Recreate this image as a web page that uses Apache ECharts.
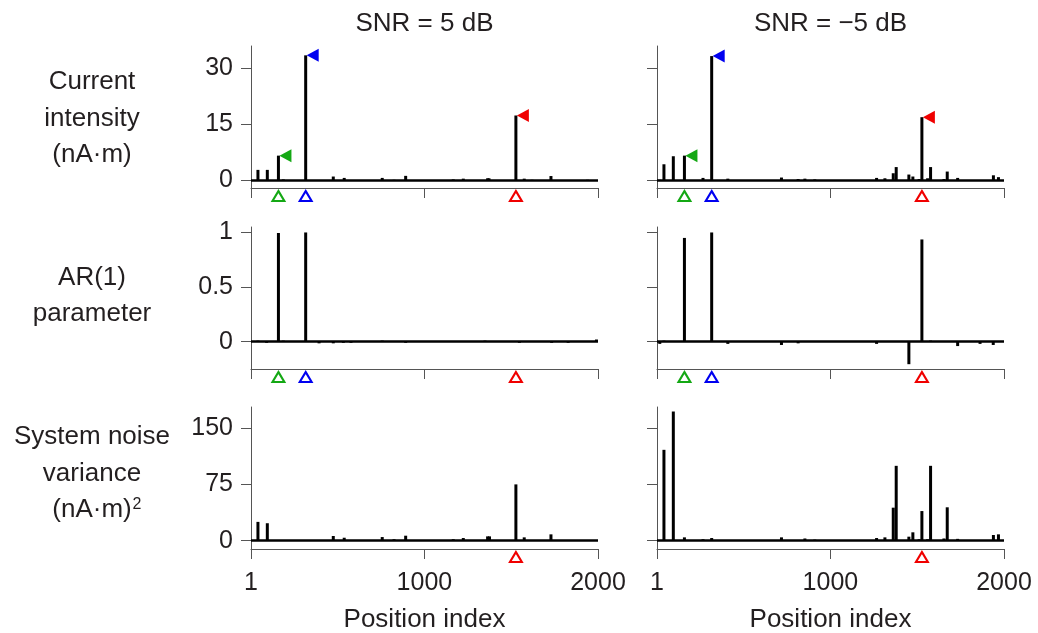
<!DOCTYPE html>
<html>
<head>
<meta charset="utf-8">
<script src="https://cdn.jsdelivr.net/npm/echarts@6/dist/echarts.min.js"></script>
<style>html,body{margin:0;padding:0;background:#fff;}#c{width:1038px;height:633px;}</style>
</head>
<body>
<div id="c"></div>
<script>
// ---- data ----
const columnTitles = ['SNR = 5 dB', 'SNR = \u22125 dB'];
const rowTitles = [['Current', 'intensity', '(nA\u00b7m)'], ['AR(1)', 'parameter'], ['System noise', 'variance', '(nA\u00b7m)']];
const xTicks = [1, 1000, 2000];
const xName = 'Position index';
const yTicksCurrent = [0, 15, 30];
const yTicksAR = [0, 0.5, 1];
const yTicksNoise = [0, 75, 150];
const sourcePositions = [159, 316, 1527];
const sourceColors = ['#14a814', '#0000f0', '#f00000'];

const current5dB = [[41,2.85],[95,2.85],[159,6.66],[187,0.3],[316,33.5],[475,1.07],[538,0.7],[757,0.7],[825,0.2],[892,1.25],[1166,0.3],[1224,0.5],[1364,0.6],[1372,0.6],[1527,17.4],[1575,0.5],[1620,0.2],[1729,1.2],[1830,0.1],[1940,0.2]];
const currentM5dB = [[16,0.2],[41,4.35],[95,6.5],[159,6.66],[238,0.1],[266,0.7],[316,33.3],[409,0.5],[480,0.1],[718,0.8],[814,0.4],[853,0.5],[910,0.3],[1266,0.7],[1314,0.6],[1362,1.95],[1379,3.6],[1452,1.6],[1475,1.07],[1511,0.4],[1527,16.95],[1560,0.6],[1577,3.6],[1654,0.4],[1673,2.4],[1733,0.7],[1939,1.4],[1968,0.9]];
const ar5dB = [[41,0.01],[91,-0.01],[159,0.995],[187,0.01],[316,1.0],[393,-0.015],[475,-0.015],[533,-0.01],[577,-0.01],[757,0.01],[892,-0.01],[1349,0.01],[1547,-0.01],[1733,-0.01],[1828,-0.01],[1991,0.02]];
const arM5dB = [[17,-0.02],[41,0.01],[159,0.95],[316,1.0],[409,-0.02],[718,-0.03],[814,-0.015],[1266,-0.02],[1452,-0.206],[1527,0.936],[1577,0.01],[1733,-0.04],[1862,-0.02],[1938,-0.03]];
const noise5dB = [[41,25.1],[95,23.3],[159,1],[187,0.8],[316,1],[475,6.3],[538,4],[757,4.9],[825,2],[892,6.7],[1166,2],[1224,3.6],[1364,5.8],[1375,5.8],[1527,75],[1575,4.5],[1620,1],[1729,8.5],[1830,0.5],[1940,0.5]];
const noiseM5dB = [[16,1],[41,121],[95,172],[159,4.5],[266,2],[316,3.6],[409,1],[480,0.5],[718,4.5],[814,1],[853,3],[910,1.5],[1266,3.6],[1314,4.5],[1362,44],[1379,99.7],[1452,5.4],[1475,11.2],[1511,2],[1527,39.5],[1560,2],[1577,99.7],[1654,3],[1673,44.5],[1733,2.5],[1862,1],[1880,1],[1939,7.6],[1968,8.5]];

// ---- layout ----
const FONT = '"Liberation Sans", Arial, Helvetica, sans-serif';
const TXT = '#231f20';
const AX = '#555';
const gridLeft = [251, 657];
const gridWidth = 347;
const gridTop = [46, 227, 407];
const gridHeight = 142;
const yRange = [[-2, 36], [-0.25, 1.05], [-11, 178]];
const yTicks = [yTicksCurrent, yTicksAR, yTicksNoise];
const panelData = [[current5dB, currentM5dB], [ar5dB, arM5dB], [noise5dB, noiseM5dB]];

const grids = [], xAxes = [], yAxes = [], series = [];
for (let r = 0; r < 3; r++) {
  for (let c = 0; c < 2; c++) {
    const i = r * 2 + c;
    grids.push({left: gridLeft[c], top: gridTop[r], width: gridWidth, height: gridHeight, containLabel: false});
    xAxes.push({
      type: 'value', gridIndex: i, min: 1, max: 2000,
      axisLine: {show: true, onZero: false, lineStyle: {color: AX, width: 1}},
      axisTick: {show: true, inside: false, length: 10, customValues: xTicks, lineStyle: {color: AX, width: 1}},
      axisLabel: {show: r === 2, customValues: xTicks, margin: 22, color: TXT, fontSize: 25, fontFamily: FONT,
        formatter: v => String(v)},
      splitLine: {show: false}
    });
    yAxes.push({
      type: 'value', gridIndex: i, min: yRange[r][0], max: yRange[r][1],
      axisLine: {show: true, onZero: false, lineStyle: {color: AX, width: 1}},
      axisTick: {show: true, inside: false, length: 10, customValues: yTicks[r], lineStyle: {color: AX, width: 1}},
      axisLabel: {show: c === 0, customValues: yTicks[r], margin: 18, color: TXT, fontSize: 25, fontFamily: FONT,
        formatter: v => String(v)},
      splitLine: {show: false}
    });
    series.push({
      type: 'bar', xAxisIndex: i, yAxisIndex: i, data: panelData[r][c], barWidth: 3,
      itemStyle: {color: '#000', opacity: 1}, silent: true,
      markLine: {silent: true, symbol: 'none', label: {show: false}, animation: false,
        lineStyle: {color: '#000', width: 2.5, type: 'solid', opacity: 1}, data: [{yAxis: 0}]}
    });
    // open triangles marking true source positions
    const tri = [];
    sourcePositions.forEach((p, k) => {
      if (r === 2 && k !== 2) return;
      tri.push({value: [p, yRange[r][0]], itemStyle: {color: 'rgba(0,0,0,0)', borderColor: sourceColors[k], borderWidth: 2, opacity: 1}});
    });
    series.push({
      type: 'scatter', xAxisIndex: i, yAxisIndex: i, data: tri, clip: false, silent: true,
      symbol: 'triangle', symbolSize: [12, 10], symbolOffset: [0, 8], z: 5
    });
    // flags on estimated peaks (top row)
    if (r === 0) {
      const flags = sourcePositions.map((p, k) => {
        const hit = panelData[r][c].find(d => d[0] === p);
        return {value: [p, hit ? hit[1] : 0], itemStyle: {color: sourceColors[k], opacity: 1}};
      });
      series.push({
        type: 'scatter', xAxisIndex: i, yAxisIndex: i, data: flags, clip: false, silent: true,
        symbol: 'path://M0,6 L12,0 L12,12 Z', symbolSize: [12, 13], symbolOffset: [7, 0], symbolKeepAspect: false, z: 6
      });
    }
  }
}

const graphics = [];
const colCenter = [gridLeft[0] + gridWidth / 2, gridLeft[1] + gridWidth / 2];
columnTitles.forEach((t, c) => {
  graphics.push({type: 'text', style: {text: t, x: colCenter[c], y: 24, textAlign: 'center', textVerticalAlign: 'middle', font: '26px ' + FONT, fill: TXT}});
  graphics.push({type: 'text', style: {text: xName, x: colCenter[c], y: 620, textAlign: 'center', textVerticalAlign: 'middle', font: '26px ' + FONT, fill: TXT}});
});
const rowLineY = [[82, 119, 155], [278, 314], [437, 474, 510]];
rowTitles.forEach((lines, r) => {
  lines.forEach((t, k) => {
    graphics.push({type: 'text', style: {text: t, x: 92, y: rowLineY[r][k], textAlign: 'center', textVerticalAlign: 'middle', font: '26px ' + FONT, fill: TXT}});
  });
});
graphics.push({type: 'text', style: {text: '2', x: 137, y: 505, textAlign: 'center', textVerticalAlign: 'middle', font: '16px ' + FONT, fill: TXT}});

const chart = echarts.init(document.getElementById('c'), null, {renderer: 'canvas'});
chart.setOption({
  animation: false,
  backgroundColor: '#fff',
  grid: grids, xAxis: xAxes, yAxis: yAxes, series: series, graphic: graphics
});
</script>
</body>
</html>
